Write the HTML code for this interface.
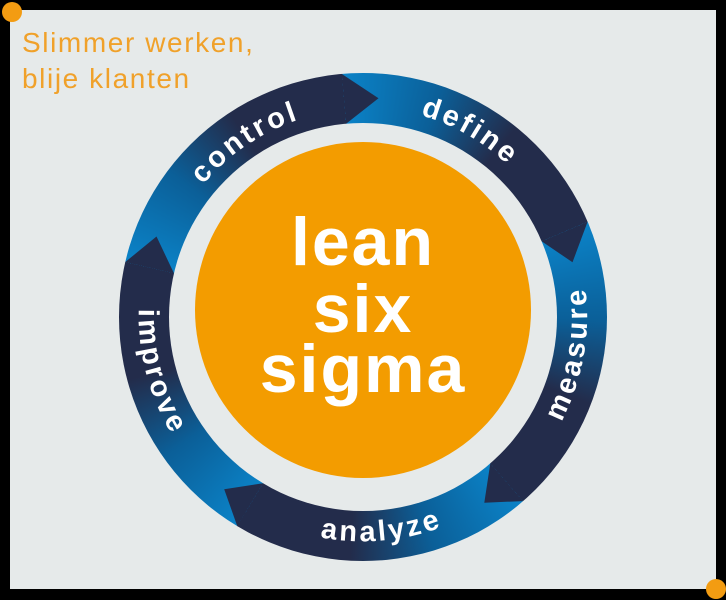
<!DOCTYPE html>
<html><head><meta charset="utf-8"><style>
html,body{margin:0;padding:0;background:#000;}
#wrap{position:relative;width:726px;height:600px;background:#000;overflow:hidden;}
#panel{position:absolute;left:10px;top:10px;width:706px;height:579px;background:#e6eaea;}
.dot{position:absolute;width:20px;height:20px;border-radius:50%;background:#f39c12;}
#ring{position:absolute;left:119px;top:73px;width:488px;height:488px;border-radius:50%;
background:conic-gradient(from -5deg at 50% 50%,
#0b83c8 0deg,#0b5f98 24deg,#232c4b 44deg,#232c4b 72deg,
#0b83c8 72deg,#0b5f98 96deg,#232c4b 116deg,#232c4b 144deg,
#0b83c8 144deg,#0b5f98 168deg,#232c4b 188deg,#232c4b 216deg,
#0b83c8 216deg,#0b5f98 240deg,#232c4b 260deg,#232c4b 288deg,
#0b83c8 288deg,#0b5f98 312deg,#232c4b 332deg,#232c4b 360deg);}
#hole{position:absolute;left:169px;top:123px;width:388px;height:388px;border-radius:50%;background:#e6eaea;}
#orange{position:absolute;left:195px;top:142px;width:336px;height:336px;border-radius:50%;background:#f39c00;}
svg{position:absolute;left:0;top:0;}
</style></head><body><div id="wrap">
<div id="panel"></div>
<div class="dot" style="left:2px;top:2px;"></div>
<div class="dot" style="left:706px;top:579px;"></div>
<div id="ring"></div>
<div id="hole"></div>
<div id="orange"></div>
<svg width="726" height="600" viewBox="0 0 726 600">
<defs>
<path id="pc" d="M188.9,434.4 A210,210 0 0 1 537.1,199.6"/>
<path id="pd" d="M181.1,212 A210,210 0 0 1 544.9,422"/>
<path id="pm" d="M323.4,541.5 A228,228 0 0 0 402.6,92.5"/>
<path id="pa" d="M135.9,336.9 A228,228 0 0 0 590.1,297.1"/>
<path id="pi" d="M304,96.8 A228,228 0 0 0 422,537.2"/>
</defs>
<g fill="#232c4b">
<polygon points="341.7,73.9 378.5,98.3 346.1,123.7"/>
<polygon points="587.6,221.7 572.5,262.3 541.6,241.2"/>
<polygon points="523.1,501.1 484.3,502.7 490.3,463.4"/>
<polygon points="237.3,526.2 224.2,489.2 263.1,483.3"/>
<polygon points="125.2,262.1 156.5,236.5 174,273.4"/>
</g>
<g font-family="Liberation Sans, sans-serif" font-weight="bold" font-size="29" fill="#fff" letter-spacing="3" text-anchor="middle">
<text><textPath href="#pc" startOffset="50%">control</textPath></text>
<text><textPath href="#pd" startOffset="50%">define</textPath></text>
<text><textPath href="#pm" startOffset="50%">measure</textPath></text>
<text><textPath href="#pa" startOffset="50%">analyze</textPath></text>
<text><textPath href="#pi" startOffset="50%">improve</textPath></text>
</g>
<g font-family="Liberation Sans, sans-serif" font-weight="bold" font-size="68" fill="#fff" text-anchor="middle" letter-spacing="2">
<text x="363" y="265">lean</text>
<text x="363" y="332">six</text>
<text x="363" y="392">sigma</text>
</g>
<g font-family="Liberation Sans, sans-serif" font-size="28" fill="#f0a12a" letter-spacing="1.6">
<text x="22" y="52">Slimmer werken,</text>
<text x="22" y="88">blije klanten</text>
</g>
</svg>
</div></body></html>
